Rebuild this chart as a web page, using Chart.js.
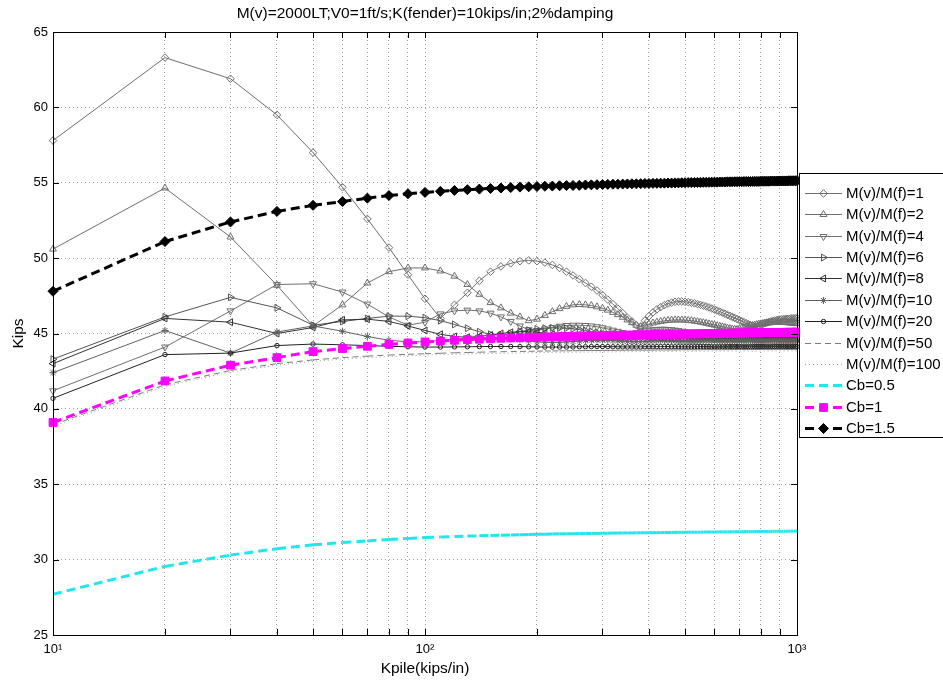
<!DOCTYPE html>
<html><head><meta charset="utf-8">
<script src="https://cdn.jsdelivr.net/npm/chart.js@4.4.1/dist/chart.umd.min.js"></script>
<style>html,body{margin:0;padding:0;background:#fff;}#wrap{width:943px;height:682px;}</style>
</head><body><div id="wrap"><canvas id="c" width="943" height="682"></canvas></div>
<script>
const chartTitle = "M(v)=2000LT;V0=1ft/s;K(fender)=10kips/in;2%damping";
const xTitle = "Kpile(kips/in)";
const yTitle = "Kips";
const kpile = [10,20,30,40,50,60,70,80,90,100,110,120,130,140,150,160,170,180,190,200,210,220,230,240,250,260,270,280,290,300,310,320,330,340,350,360,370,380,390,400,410,420,430,440,450,460,470,480,490,500,510,520,530,540,550,560,570,580,590,600,610,620,630,640,650,660,670,680,690,700,710,720,730,740,750,760,770,780,790,800,810,820,830,840,850,860,870,880,890,900,910,920,930,940,950,960,970,980,990,1000];
const xTickValues = [10,20,30,40,50,60,70,80,90,100,200,300,400,500,600,700,800,900,1000];
const xTickLabels = {10:"10\u00B9",100:"10\u00B2",1000:"10\u00B3"};
const seriesLabels = ["M(v)/M(f)=1","M(v)/M(f)=2","M(v)/M(f)=4","M(v)/M(f)=6","M(v)/M(f)=8","M(v)/M(f)=10","M(v)/M(f)=20","M(v)/M(f)=50","M(v)/M(f)=100","Cb=0.5","Cb=1","Cb=1.5"];

const mv1 = [57.8,63.3,61.9,59.5,57.0,54.7,52.6,50.7,48.9,47.3,
46.0,46.9,47.7,48.5,49.1,49.45,49.65,49.8,49.85,49.8,
49.7,49.55,49.35,49.1,48.85,48.6,48.35,48.1,47.85,47.55,
47.25,46.95,46.65,46.35,46.05,45.8,45.55,45.45,45.85,46.15,
46.4,46.6,46.75,46.88,46.98,47.05,47.1,47.12,47.12,47.1,
47.08,47.04,47.0,46.95,46.9,46.85,46.79,46.73,46.66,46.59,
46.52,46.45,46.38,46.31,46.24,46.17,46.1,46.03,45.96,45.89,
45.82,45.75,45.68,45.62,45.56,45.5,45.45,45.42,45.5,45.57,
45.63,45.68,45.72,45.76,45.8,45.83,45.86,45.88,45.9,45.92,
45.94,45.95,45.96,45.97,45.98,45.99,46.0,46.0,46.01,46.01];
const mv2 = [50.6,54.65,51.4,48.2,45.5,46.9,48.35,49.1,49.35,49.35,
49.15,48.8,48.25,47.6,47.05,46.7,46.35,46.1,45.85,45.95,
46.2,46.45,46.65,46.8,46.9,46.92,46.9,46.85,46.77,46.67,
46.55,46.4,46.25,46.08,45.9,45.72,45.55,45.45,45.55,45.63,
45.7,45.76,45.8,45.84,45.87,45.89,45.9,45.9,45.9,45.89,
45.87,45.85,45.82,45.79,45.76,45.72,45.68,45.64,45.6,45.56,
45.52,45.48,45.44,45.4,45.36,45.33,45.3,45.28,45.27,45.3,
45.34,45.38,45.42,45.46,45.5,45.53,45.56,45.59,45.62,45.64,
45.66,45.68,45.7,45.71,45.72,45.73,45.73,45.74,45.74,45.74,
45.74,45.73,45.73,45.72,45.71,45.7,45.69,45.68,45.66,45.65];
const mv4 = [41.2,44.1,46.5,48.25,48.3,47.75,46.95,46.1,45.55,45.75,
46.3,46.5,46.55,46.5,46.35,46.1,45.8,45.5,45.25,45.2,
45.3,45.4,45.48,45.53,45.55,45.55,45.53,45.5,45.45,45.38,
45.3,45.22,45.14,45.06,45.0,44.98,45.05,45.12,45.18,45.22,
45.25,45.27,45.28,45.28,45.27,45.25,45.22,45.19,45.15,45.11,
45.07,45.03,44.99,44.96,44.95,44.97,45.0,45.03,45.05,45.07,
45.09,45.1,45.11,45.11,45.11,45.1,45.09,45.07,45.05,45.03,
45.0,44.98,44.96,44.95,44.96,44.98,45.0,45.02,45.04,45.05,
45.06,45.07,45.08,45.08,45.08,45.08,45.07,45.06,45.05,45.04,
45.02,45.01,45.0,44.99,44.98,44.98,44.99,45.0,45.01,45.02];
const mv6 = [43.3,46.1,47.4,46.7,45.55,45.8,46.0,46.15,46.15,46.05,
45.85,45.6,45.35,45.12,44.95,44.9,45.0,45.12,45.22,45.3,
45.35,45.37,45.37,45.35,45.31,45.26,45.2,45.13,45.06,44.99,
44.92,44.86,44.8,44.76,44.74,44.75,44.78,44.82,44.86,44.9,
44.93,44.96,44.98,44.99,45.0,45.0,44.99,44.98,44.96,44.93,
44.9,44.87,44.84,44.81,44.79,44.78,44.78,44.79,44.81,44.83,
44.85,44.87,44.89,44.9,44.91,44.91,44.91,44.9,44.89,44.87,
44.85,44.83,44.81,44.8,44.79,44.79,44.8,44.81,44.83,44.84,
44.86,44.87,44.88,44.88,44.88,44.88,44.87,44.86,44.85,44.84,
44.83,44.82,44.81,44.81,44.81,44.82,44.83,44.84,44.85,44.86];
const mv8 = [43.0,46.0,45.75,45.0,45.4,45.9,45.95,45.8,45.5,45.2,
44.95,44.8,44.75,44.8,44.9,45.0,45.08,45.12,45.12,45.08,
45.02,44.95,44.88,44.81,44.75,44.7,44.67,44.66,44.67,44.69,
44.72,44.75,44.78,44.8,44.82,44.83,44.83,44.82,44.8,44.78,
44.75,44.72,44.7,44.68,44.67,44.66,44.66,44.67,44.68,44.7,
44.72,44.74,44.75,44.76,44.77,44.77,44.76,44.75,44.74,44.72,
44.7,44.69,44.68,44.67,44.67,44.67,44.68,44.69,44.7,44.71,
44.72,44.73,44.73,44.73,44.73,44.72,44.71,44.7,44.69,44.68,
44.68,44.68,44.68,44.69,44.69,44.7,44.7,44.71,44.71,44.71,
44.71,44.71,44.7,44.7,44.69,44.69,44.69,44.69,44.69,44.7];
const mv10 = [42.4,45.2,43.7,45.1,45.5,45.15,44.8,44.55,44.45,44.45,
44.55,44.65,44.72,44.75,44.74,44.7,44.64,44.57,44.5,44.45,
44.42,44.41,44.42,44.44,44.47,44.5,44.53,44.55,44.56,44.56,
44.55,44.53,44.51,44.49,44.47,44.46,44.46,44.47,44.48,44.5,
44.51,44.52,44.53,44.53,44.53,44.52,44.51,44.5,44.49,44.48,
44.48,44.48,44.49,44.5,44.5,44.51,44.52,44.52,44.52,44.52,
44.51,44.5,44.5,44.49,44.49,44.49,44.49,44.5,44.5,44.51,
44.51,44.52,44.52,44.52,44.51,44.51,44.5,44.5,44.5,44.5,
44.5,44.5,44.51,44.51,44.51,44.51,44.51,44.51,44.51,44.5,
44.5,44.5,44.5,44.5,44.5,44.5,44.51,44.51,44.51,44.51];
const mv20 = [40.7,43.6,43.7,44.2,44.3,44.25,44.2,44.15,44.12,44.1,
44.1,44.11,44.12,44.13,44.14,44.14,44.14,44.13,44.12,44.11,
44.1,44.1,44.1,44.1,44.11,44.12,44.12,44.13,44.13,44.13,
44.13,44.12,44.12,44.11,44.11,44.11,44.11,44.11,44.12,44.12,
44.12,44.13,44.13,44.13,44.13,44.12,44.12,44.12,44.12,44.12,
44.12,44.12,44.12,44.13,44.13,44.13,44.13,44.13,44.12,44.12,
44.12,44.12,44.12,44.12,44.13,44.13,44.13,44.13,44.13,44.13,
44.12,44.12,44.12,44.12,44.12,44.13,44.13,44.13,44.13,44.13,
44.13,44.12,44.12,44.12,44.12,44.12,44.13,44.13,44.13,44.13,
44.13,44.13,44.12,44.12,44.12,44.12,44.12,44.13,44.13,44.13];
const mv50 = [38.95,41.6,42.55,43.0,43.25,43.4,43.5,43.57,43.62,43.66,
43.69,43.72,43.74,43.76,43.78,43.79,43.8,43.81,43.82,43.83,
43.84,43.84,43.85,43.85,43.86,43.86,43.87,43.87,43.87,43.88,
43.88,43.88,43.89,43.89,43.89,43.89,43.9,43.9,43.9,43.9,
43.9,43.91,43.91,43.91,43.91,43.91,43.91,43.92,43.92,43.92,
43.92,43.92,43.92,43.92,43.92,43.93,43.93,43.93,43.93,43.93,
43.93,43.93,43.93,43.93,43.93,43.93,43.94,43.94,43.94,43.94,
43.94,43.94,43.94,43.94,43.94,43.94,43.94,43.94,43.94,43.94,
43.95,43.95,43.95,43.95,43.95,43.95,43.95,43.95,43.95,43.95,
43.95,43.95,43.95,43.95,43.95,43.95,43.95,43.95,43.95,43.95];
const mv100 = [38.85,41.5,42.45,42.9,43.15,43.3,43.4,43.47,43.52,43.56,
43.59,43.62,43.64,43.66,43.68,43.69,43.7,43.71,43.72,43.73,
43.74,43.74,43.75,43.75,43.76,43.76,43.77,43.77,43.77,43.78,
43.78,43.78,43.79,43.79,43.79,43.79,43.8,43.8,43.8,43.8,
43.8,43.81,43.81,43.81,43.81,43.81,43.81,43.82,43.82,43.82,
43.82,43.82,43.82,43.82,43.82,43.83,43.83,43.83,43.83,43.83,
43.83,43.83,43.83,43.83,43.83,43.83,43.84,43.84,43.84,43.84,
43.84,43.84,43.84,43.84,43.84,43.84,43.84,43.84,43.84,43.84,
43.85,43.85,43.85,43.85,43.85,43.85,43.85,43.85,43.85,43.85,
43.85,43.85,43.85,43.85,43.85,43.85,43.85,43.85,43.85,43.85];
const cb05 = [27.7,29.55,30.3,30.72,30.98,31.13,31.24,31.33,31.4,31.46,
31.5,31.53,31.56,31.58,31.6,31.62,31.64,31.65,31.67,31.68,
31.69,31.7,31.71,31.71,31.72,31.73,31.73,31.74,31.74,31.75,
31.75,31.76,31.76,31.77,31.77,31.77,31.78,31.78,31.78,31.79,
31.79,31.79,31.8,31.8,31.8,31.8,31.81,31.81,31.81,31.81,
31.82,31.82,31.82,31.82,31.82,31.83,31.83,31.83,31.83,31.83,
31.84,31.84,31.84,31.84,31.84,31.84,31.85,31.85,31.85,31.85,
31.85,31.85,31.86,31.86,31.86,31.86,31.86,31.86,31.86,31.87,
31.87,31.87,31.87,31.87,31.87,31.88,31.88,31.88,31.88,31.88,
31.88,31.88,31.88,31.89,31.89,31.89,31.89,31.89,31.9,31.9];
const cb1 = [39.1,41.85,42.9,43.4,43.8,44.0,44.15,44.28,44.37,44.44,
44.5,44.55,44.59,44.62,44.65,44.68,44.7,44.72,44.74,44.76,
44.77,44.78,44.8,44.81,44.82,44.83,44.84,44.85,44.85,44.86,
44.87,44.87,44.88,44.89,44.89,44.9,44.9,44.91,44.91,44.92,
44.92,44.93,44.93,44.94,44.94,44.95,44.95,44.96,44.96,44.97,
44.97,44.97,44.98,44.98,44.98,44.99,44.99,44.99,45.0,45.0,
45.0,45.01,45.01,45.01,45.01,45.02,45.02,45.02,45.03,45.03,
45.03,45.03,45.04,45.04,45.04,45.04,45.05,45.05,45.05,45.05,
45.05,45.06,45.06,45.06,45.06,45.06,45.07,45.07,45.07,45.07,
45.07,45.07,45.08,45.08,45.08,45.08,45.08,45.08,45.09,45.09];
const cb15 = [47.8,51.1,52.4,53.1,53.5,53.75,53.98,54.15,54.27,54.36,
54.43,54.49,54.54,54.58,54.62,54.65,54.68,54.71,54.73,54.75,
54.77,54.78,54.8,54.81,54.82,54.83,54.85,54.86,54.87,54.88,
54.89,54.9,54.9,54.91,54.92,54.93,54.93,54.94,54.95,54.95,
54.96,54.96,54.97,54.97,54.98,54.98,54.99,54.99,55.0,55.0,
55.01,55.01,55.01,55.02,55.02,55.03,55.03,55.03,55.04,55.04,
55.04,55.05,55.05,55.05,55.06,55.06,55.06,55.07,55.07,55.07,
55.07,55.08,55.08,55.08,55.08,55.09,55.09,55.09,55.09,55.1,
55.1,55.1,55.1,55.1,55.11,55.11,55.11,55.11,55.11,55.12,
55.12,55.12,55.12,55.12,55.13,55.13,55.13,55.13,55.13,55.14];

const seriesValues = [mv1,mv2,mv4,mv6,mv8,mv10,mv20,mv50,mv100,cb05,cb1,cb15];

const FONT = '"Liberation Sans", Arial, Helvetica, sans-serif';
const resetDash = {borderDashOffset: c => (c.p0DataIndex % 2 ? 0.001 : 0)};

const styles = [
  {borderColor:'#6e6e6e', borderWidth:1, pointStyle:'rectRot', pointRadius:3.8, pointRotation:0},
  {borderColor:'#6e6e6e', borderWidth:1, pointStyle:'triangle', pointRadius:4, pointRotation:0},
  {borderColor:'#6e6e6e', borderWidth:1, pointStyle:'triangle', pointRadius:4, pointRotation:180},
  {borderColor:'#555555', borderWidth:1, pointStyle:'triangle', pointRadius:4, pointRotation:90},
  {borderColor:'#333333', borderWidth:1, pointStyle:'triangle', pointRadius:4, pointRotation:270},
  {borderColor:'#606060', borderWidth:1, pointStyle:'star', pointRadius:3.5, pointRotation:0},
  {borderColor:'#222222', borderWidth:1, pointStyle:'circle', pointRadius:2.2, pointRotation:0},
  {borderColor:'#7a7a7a', borderWidth:1, borderDash:[6,4], pointRadius:0, segment:resetDash},
  {borderColor:'#9a9a9a', borderWidth:1, borderDash:[1,3], pointRadius:0},
  {borderColor:'#22e6ee', borderWidth:3, borderDash:[9,5], pointRadius:0, segment:resetDash},
  {borderColor:'#ff00ff', borderWidth:3, borderDash:[9,5], pointStyle:'rect', pointRadius:5.5, pointBackgroundColor:'#ff00ff', pointBorderColor:'#ff00ff', pointBorderWidth:1, segment:resetDash},
  {borderColor:'#000000', borderWidth:3, borderDash:[9,5], pointStyle:'rectRot', pointRadius:5, pointBackgroundColor:'#000000', pointBorderColor:'#000000', pointBorderWidth:1, segment:resetDash}
];

const datasets = seriesLabels.map((lab, i) => {
  const st = styles[i];
  return Object.assign({
    label: lab,
    data: kpile.map((k, j) => ({x: k, y: seriesValues[i][j]})),
    fill: false, tension: 0, clip: false, order: 20 - i,
    pointBackgroundColor: 'rgba(255,255,255,0)',
    pointBorderColor: st.borderColor,
    pointBorderWidth: 1,
    pointHoverRadius: 0,
    borderCapStyle: 'butt'
  }, st);
});

const framePlugin = {
  id: 'frame',
  afterDatasetsDraw(chart) {
    const {ctx, chartArea: a, scales: {x, y}} = chart;
    ctx.save();
    ctx.strokeStyle = '#000'; ctx.lineWidth = 1; ctx.setLineDash([]);
    ctx.strokeRect(Math.round(a.left) + 0.5, Math.round(a.top) + 0.5, Math.round(a.right - a.left), Math.round(a.bottom - a.top));
    ctx.beginPath();
    x.ticks.forEach(t => {
      const px = Math.round(x.getPixelForValue(t.value)) + 0.5;
      ctx.moveTo(px, a.bottom); ctx.lineTo(px, a.bottom - 6);
      ctx.moveTo(px, a.top); ctx.lineTo(px, a.top + 6);
    });
    y.ticks.forEach(t => {
      const py = Math.round(y.getPixelForValue(t.value)) + 0.5;
      ctx.moveTo(a.left, py); ctx.lineTo(a.left + 6, py);
      ctx.moveTo(a.right, py); ctx.lineTo(a.right - 6, py);
    });
    ctx.stroke();
    ctx.restore();
  },
  afterDraw(chart) {
    const ctx = chart.ctx;
    const a = chart.chartArea;
    ctx.save();
    ctx.fillStyle = '#000';
    ctx.font = '15.5px ' + FONT;
    ctx.textAlign = 'center'; ctx.textBaseline = 'middle';
    ctx.fillText(chartTitle, (a.left + a.right) / 2, 14);
    const x0 = 799, y0 = 173, y1 = 437;
    ctx.fillStyle = '#fff';
    ctx.fillRect(x0, y0, 960 - x0, y1 - y0);
    ctx.strokeStyle = '#000'; ctx.lineWidth = 1;
    ctx.strokeRect(x0 + 0.5, y0 + 0.5, 960 - x0, y1 - y0);
    chart.data.datasets.forEach((ds, i) => {
      const yy = Math.round(192.7 + i * 21.4) + 0.5;
      ctx.save();
      ctx.strokeStyle = ds.borderColor; ctx.lineWidth = ds.borderWidth;
      ctx.setLineDash(ds.borderDash || []);
      ctx.lineCap = 'butt';
      ctx.beginPath(); ctx.moveTo(805, yy); ctx.lineTo(842, yy); ctx.stroke();
      ctx.setLineDash([]);
      if (ds.pointRadius > 0) {
        ctx.fillStyle = ds.pointBackgroundColor; ctx.strokeStyle = ds.pointBorderColor; ctx.lineWidth = ds.pointBorderWidth;
        Chart.helpers.drawPoint(ctx, {pointStyle: ds.pointStyle, rotation: ds.pointRotation || 0, radius: ds.pointRadius, borderWidth: ds.pointBorderWidth}, 823.5, yy);
      }
      ctx.restore();
      ctx.fillStyle = '#000';
      ctx.font = '15px ' + FONT;
      ctx.textAlign = 'left'; ctx.textBaseline = 'middle';
      ctx.fillText(ds.label, 846, yy);
    });
    ctx.restore();
  }
};

new Chart(document.getElementById('c'), {
  type: 'line',
  data: {datasets},
  options: {
    responsive: false, animation: false, devicePixelRatio: 1, events: [],
    layout: {padding: {top: 32, right: 146, left: 0, bottom: 0}},
    plugins: {legend: {display: false}, title: {display: false}, tooltip: {enabled: false}},
    scales: {
      x: {
        type: 'logarithmic', min: 10, max: 1000,
        afterFit(s) { s.height = 47; },
        afterBuildTicks(s) { s.ticks = xTickValues.map(v => ({value: v})); },
        ticks: {autoSkip: false, maxRotation: 0, minRotation: 0, padding: 7, color: '#000', font: {family: FONT, size: 13},
          callback: v => xTickLabels[v] || ''},
        grid: {color: 'rgba(0,0,0,0.38)', lineWidth: 1, drawTicks: false},
        border: {display: false, dash: [1, 3]},
        title: {display: true, text: xTitle, color: '#000', font: {family: FONT, size: 15.5}, padding: {top: 0, bottom: 4}}
      },
      y: {
        min: 25, max: 65,
        afterFit(s) { s.width = 53; },
        ticks: {stepSize: 5, padding: 5, color: '#000', font: {family: FONT, size: 13}},
        grid: {color: 'rgba(0,0,0,0.38)', lineWidth: 1, drawTicks: false},
        border: {display: false, dash: [1, 3]},
        title: {display: true, text: yTitle, color: '#000', font: {family: FONT, size: 15.5}, padding: {top: 9, bottom: 0}}
      }
    }
  },
  plugins: [framePlugin]
});
</script></body></html>
